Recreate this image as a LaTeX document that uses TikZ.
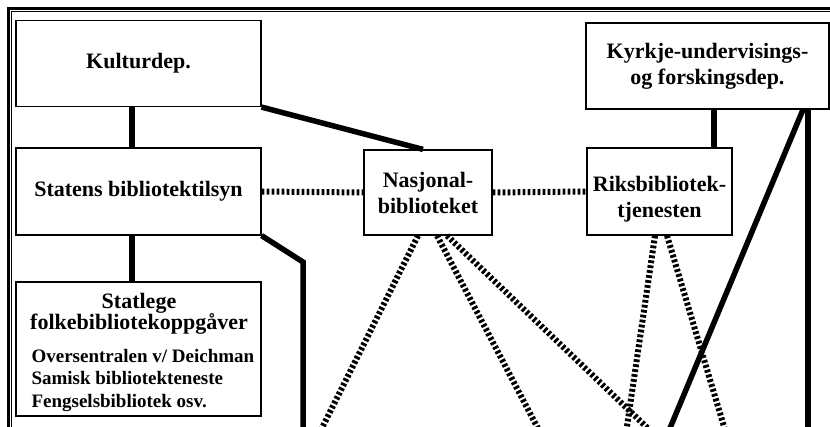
\documentclass[tikz,border=0pt]{standalone}
\usepackage{fontspec}
\setmainfont{Liberation Serif}
\begin{document}
\begin{tikzpicture}[x=1pt,y=-1pt,
  font=\fontsize{22}{26}\selectfont\bfseries,
  box/.style={draw,line width=1.2pt,inner sep=0pt,align=center,minimum width=245pt,minimum height=86pt},
  link/.style={line width=5.5pt},
  dotlink/.style={line width=6pt,dash pattern=on 2.8pt off 2.2pt}]
\clip (0,0) rectangle (830,427);
\draw [line width=3pt] (8.5,440) -- (8.5,8.5) -- (840,8.5);
\draw [line width=1pt] (11.8,440) -- (11.8,11.8) -- (840,11.8);
\node [box] (kultur) at (138.5,63.5) {Kulturdep.};
\node [box,minimum height=87pt] (statens) at (138.5,191.5) {Statens bibliotektilsyn};
\node [box,minimum height=134pt] (statlege) at (138.5,349) {};
\node [anchor=base,align=center] (statlegehead) at (139,330) {Statlege\\[-5pt]folkebibliotekoppgåver};
\node [anchor=base west,align=left,font=\fontsize{19}{22}\selectfont\bfseries] (statlegelist) at (28,407) {Oversentralen v/ Deichman\\Samisk bibliotekteneste\\Fengselsbibliotek osv.};
\node [box,minimum width=128pt,minimum height=85pt] (nasj) at (428,192.5) {Nasjonal-\\biblioteket};
\node [box,minimum width=145pt,minimum height=87pt,text height=57pt] (riks) at (659.5,191.5) {Riksbibliotek-\\tjenesten};
\node [box,minimum width=243pt] (kyrkje) at (707.5,66) {Kyrkje-undervisings-\\og forskingsdep.};
\coordinate (bend) at (303,262);
\coordinate (statensend) at (303,440);
\coordinate (kyrkjeend1) at (665,440);
\coordinate (kyrkjeend2) at (808,440);
\coordinate (nasjend1) at (316,440);
\coordinate (nasjend2) at (544,440);
\coordinate (nasjend3) at (660,440);
\coordinate (riksend1) at (625,440);
\coordinate (riksend2) at (728,440);
\draw [link] ([xshift=-6.5pt]kultur.south) -- ([xshift=-6.5pt]statens.north);
\draw [link] ([xshift=-6.5pt]statens.south) -- ([xshift=-6.5pt]statlege.north);
\draw [link] (kultur.south east) -- ([xshift=-5pt]nasj.north);
\draw [link] (statens.south east) -- (bend) -- (statensend);
\draw [link] ([xshift=6.5pt]kyrkje.south) -- ([xshift=54.5pt]riks.north);
\draw [link] ([xshift=95.5pt]kyrkje.south) -- (kyrkjeend1);
\draw [link] ([xshift=100.5pt]kyrkje.south) -- (kyrkjeend2);
\draw [dotlink] (statens.east) -- (nasj.west);
\draw [dotlink] (nasj.east) -- (riks.west);
\draw [dotlink] ([xshift=-10pt]nasj.south) -- (nasjend1);
\draw [dotlink] ([xshift=9pt]nasj.south) -- (nasjend2);
\draw [dotlink] ([xshift=19pt]nasj.south) -- (nasjend3);
\draw [dotlink] ([xshift=-4.5pt]riks.south) -- (riksend1);
\draw [dotlink] ([xshift=7.5pt]riks.south) -- (riksend2);
\end{tikzpicture}
\end{document}
